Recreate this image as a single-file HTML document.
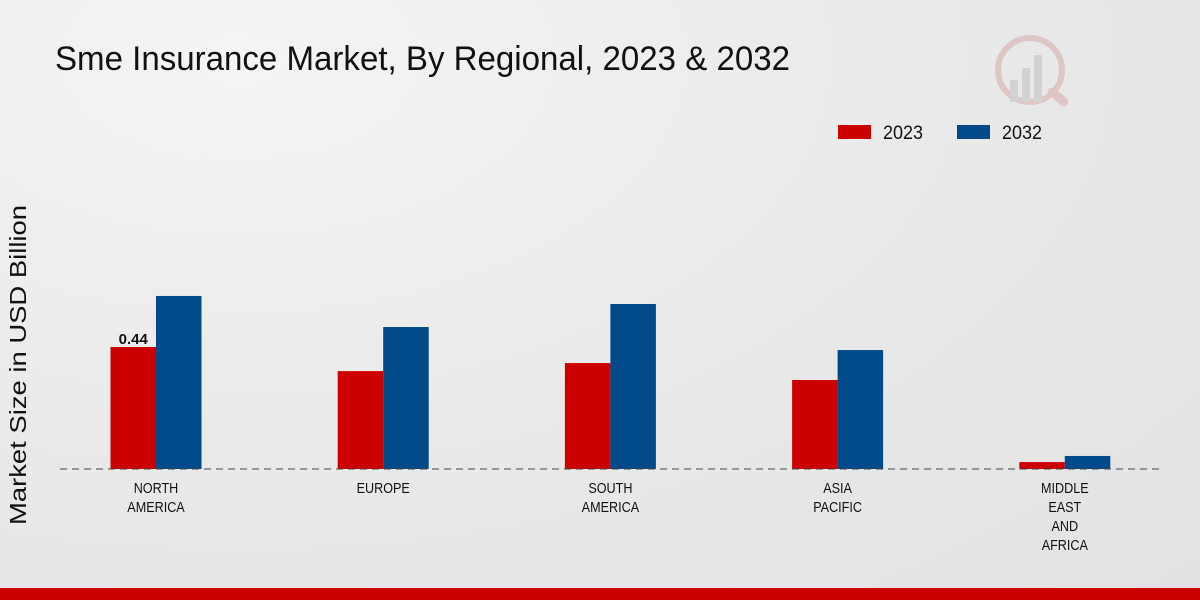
<!DOCTYPE html>
<html><head><meta charset="utf-8"><style>
html,body{margin:0;padding:0;width:1200px;height:600px;overflow:hidden;}
body{background:radial-gradient(ellipse at 20% 10%,#f4f4f4 0%,#e8e8e8 60%,#e2e2e2 100%);font-family:"Liberation Sans",sans-serif;}
</style></head><body>
<svg id="chart" width="1200" height="600" xmlns="http://www.w3.org/2000/svg">
<text x="55" y="70" font-size="34" fill="#111" textLength="735" lengthAdjust="spacingAndGlyphs">Sme Insurance Market, By Regional, 2023 &amp; 2032</text>
<g opacity="0.35">
<circle cx="1030" cy="70" r="32" fill="none" stroke="#c88" stroke-width="6"/>
<rect x="1010" y="80" width="8" height="22" fill="#aaa"/><rect x="1022" y="68" width="8" height="34" fill="#aaa"/><rect x="1034" y="55" width="8" height="47" fill="#aaa"/>
<line x1="1052" y1="92" x2="1064" y2="102" stroke="#c88" stroke-width="9" stroke-linecap="round"/>
</g>
<g>
<rect x="838" y="125" width="33" height="14" fill="#cc0000"/>
<text x="883" y="139" font-size="19" fill="#111" textLength="40" lengthAdjust="spacingAndGlyphs">2023</text>
<rect x="957" y="125" width="33" height="14" fill="#004a8a"/>
<text x="1002" y="139" font-size="19" fill="#111" textLength="40" lengthAdjust="spacingAndGlyphs">2032</text>
</g>
<text transform="translate(26,365) rotate(-90)" text-anchor="middle" font-size="23" fill="#111" textLength="320" lengthAdjust="spacingAndGlyphs">Market Size in USD Billion</text>
<g id="bars"></g>
<line x1="60" y1="469" x2="1160" y2="469" stroke="#444" stroke-dasharray="7,5"/>
<g id="labels"></g>
<rect x="0" y="588" width="1200" height="12" fill="#cc0000"/>
</svg>
<script>
const categories=[["NORTH","AMERICA"],["EUROPE"],["SOUTH","AMERICA"],["ASIA","PACIFIC"],["MIDDLE","EAST","AND","AFRICA"]];
const values2023=[0.44,0.353,0.382,0.321,0.025];
const values2032=[0.624,0.512,0.595,0.429,0.047];
const shownLabels=["0.44",null,null,null,null];
const NS="http://www.w3.org/2000/svg";
const baseY=469, pxPerUnit=277.3, x0=156, step=227.2, bw=45.5;
const yScale=v=>baseY-v*pxPerUnit;
const xCenter=i=>x0+i*step;
const bars=document.getElementById('bars'), labels=document.getElementById('labels');
function mk(t,a){const e=document.createElementNS(NS,t);for(const k in a)e.setAttribute(k,a[k]);return e;}
categories.forEach((c,i)=>{
  const cx=xCenter(i);
  const r=mk('rect',{x:cx-bw,y:yScale(values2023[i]),width:bw,height:baseY-yScale(values2023[i]),fill:'#cc0000'});
  
  
  bars.appendChild(r);
  const b=mk('rect',{x:cx,y:yScale(values2032[i]),width:bw,height:baseY-yScale(values2032[i]),fill:'#004a8a'});
  
  
  bars.appendChild(b);
  if(shownLabels[i]){
    const t=mk('text',{x:cx-bw/2,y:yScale(values2023[i])-3,'text-anchor':'middle','font-size':'15','font-weight':'bold',fill:'#111'});
    t.textContent=shownLabels[i];
    
    
    bars.appendChild(t);
  }
  c.forEach((line,j)=>{
    const t=mk('text',{x:0,y:493+j*19,'text-anchor':'middle','font-size':'14.5',fill:'#111',transform:'translate('+cx+',0) scale(0.87,1)'});
    t.textContent=line;
    
    
    labels.appendChild(t);
  });
});
</script>
</body></html>
